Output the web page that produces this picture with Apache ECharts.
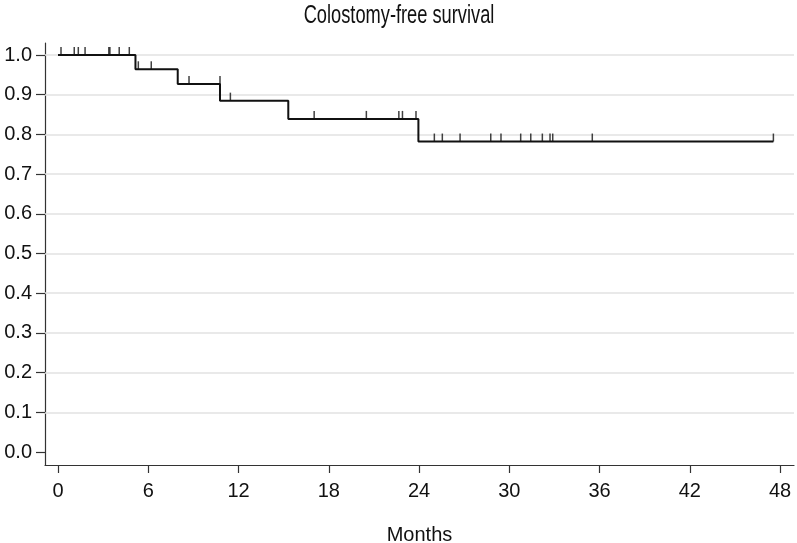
<!DOCTYPE html>
<html>
<head>
<meta charset="utf-8">
<script src="https://cdn.jsdelivr.net/npm/echarts@6/dist/echarts.min.js"></script>
<style>
html,body{margin:0;padding:0;background:#fff;}
#chart{width:797px;height:543px;}
</style>
</head>
<body>
<div id="chart"></div>
<script>
// Kaplan-Meier step points (months, survival)
const stepTimes = [0, 5.15, 7.96, 10.77, 15.31, 23.96, 47.56];
const stepValues = [1.0, 0.964, 0.927, 0.885, 0.839, 0.782, 0.782];
// Censored observations (months, survival at censor)
const censorTimes = [0.2, 1.08, 1.35, 1.8, 3.38, 3.45, 4.07, 4.74,
  5.34, 6.2,
  8.71, 10.77,
  11.46,
  17.03, 20.5, 22.66, 22.9, 23.8,
  25.02, 25.55, 26.73, 28.77, 29.45, 30.76, 31.43, 32.2, 32.71, 32.89, 35.52, 47.56];
const censorValues = [1, 1, 1, 1, 1, 1, 1, 1,
  0.964, 0.964,
  0.927, 0.927,
  0.885,
  0.839, 0.839, 0.839, 0.839, 0.839,
  0.782, 0.782, 0.782, 0.782, 0.782, 0.782, 0.782, 0.782, 0.782, 0.782, 0.782, 0.782];
const xTicks = [0, 6, 12, 18, 24, 30, 36, 42, 48];
const yTicks = [0, 0.1, 0.2, 0.3, 0.4, 0.5, 0.6, 0.7, 0.8, 0.9, 1.0];
const gridValues = [0.1, 0.2, 0.3, 0.4, 0.5, 0.6, 0.7, 0.8, 0.9, 1.0];
const titleText = 'Colostomy-free survival';

const font = '"Liberation Sans", Arial, sans-serif';
const chart = echarts.init(document.getElementById('chart'), null, {renderer: 'canvas'});
chart.setOption({
  animation: false,
  backgroundColor: '#ffffff',
  graphic: [{
    type: 'text',
    x: 399,
    y: 16,
    scaleX: 0.73,
    style: {
      text: titleText,
      fontFamily: font,
      fontSize: 25,
      fill: '#111',
      align: 'center',
      verticalAlign: 'middle'
    }
  }],
  grid: {left: 45, right: 3, top: 43, bottom: 78, containLabel: false, outerBoundsMode: 'none'},
  xAxis: {
    type: 'value',
    min: -0.864,
    max: 48.93,
    name: 'Months',
    nameLocation: 'middle',
    nameGap: 60,
    nameTextStyle: {fontFamily: font, fontSize: 20, color: '#111'},
    axisLine: {show: true, onZero: false, lineStyle: {color: '#333', width: 1.2}},
    axisTick: {show: true, length: 8, customValues: xTicks, lineStyle: {color: '#333', width: 1.2}},
    axisLabel: {customValues: xTicks, margin: 16, fontFamily: font, fontSize: 20, color: '#111'},
    splitLine: {show: false}
  },
  yAxis: {
    type: 'value',
    min: -0.0327,
    max: 1.0302,
    axisLine: {show: true, onZero: false, lineStyle: {color: '#333', width: 1.2}},
    axisTick: {show: true, length: 9, customValues: yTicks, lineStyle: {color: '#333', width: 1.2}},
    axisLabel: {customValues: yTicks, margin: 13, fontFamily: font, fontSize: 20, color: '#111',
      formatter: v => Number(v).toFixed(1)},
    splitLine: {show: false}
  },
  series: [
    {
      type: 'line',
      z: 1,
      data: [],
      silent: true,
      markLine: {
        z: 1,
        silent: true,
        symbol: 'none',
        label: {show: false},
        lineStyle: {color: '#e2e2e2', width: 1.5, type: 'solid'},
        data: gridValues.map(v => ({yAxis: v}))
      }
    },
    {
      type: 'line',
      z: 3,
      step: 'end',
      showSymbol: false,
      symbol: 'none',
      lineStyle: {color: '#111', width: 2},
      data: stepTimes.map((t, i) => [t, stepValues[i]])
    },
    {
      type: 'scatter',
      z: 4,
      symbol: 'rect',
      symbolSize: [1.5, 8],
      symbolOffset: [0, '-50%'],
      itemStyle: {color: '#111'},
      data: censorTimes.map((t, i) => [t, censorValues[i]])
    }
  ]
});
</script>
</body>
</html>
